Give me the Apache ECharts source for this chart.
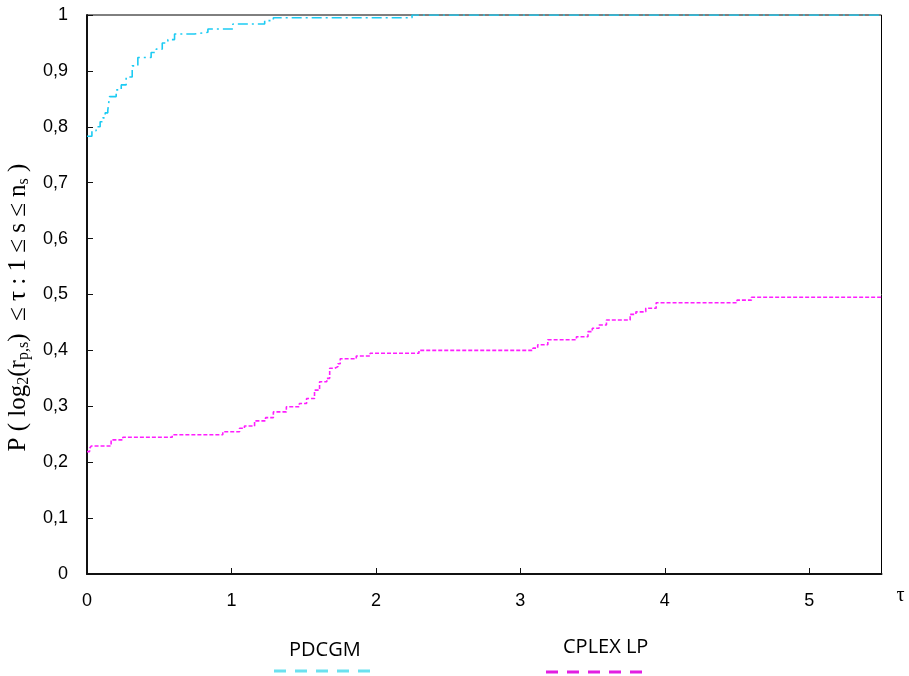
<!DOCTYPE html>
<html>
<head>
<meta charset="utf-8">
<script src="https://cdn.jsdelivr.net/npm/echarts@6/dist/echarts.min.js"></script>
<style>
  html, body { margin: 0; padding: 0; background: #fff; }
  #chart { width: 909px; height: 676px; }
</style>
</head>
<body>
<div id="chart"></div>
<script>
// performance profile data
const pdcgmTau = [0, 0.034, 0.063, 0.091, 0.11, 0.126, 0.144, 0.156, 0.202, 0.237, 0.271, 0.313, 0.352,
  0.444, 0.479, 0.521, 0.56, 0.606, 0.744, 0.837, 1.01, 1.23, 1.29, 2.25, 5.5];
const pdcgmP = [0.783, 0.793, 0.8, 0.809, 0.816, 0.825, 0.83, 0.854, 0.866, 0.875, 0.889, 0.909, 0.924,
  0.933, 0.939, 0.95, 0.956, 0.966, 0.969, 0.975, 0.984, 0.99, 0.995, 1, 1];

const cplexTau = [0, 0.018, 0.03, 0.167, 0.248, 0.59, 0.94, 1.056, 1.09, 1.16, 1.236, 1.29, 1.38, 1.47,
  1.52, 1.575, 1.61, 1.66, 1.68, 1.714, 1.737, 1.753, 1.864, 1.96, 2.298, 3.087, 3.12, 3.19, 3.388,
  3.468, 3.498, 3.545, 3.596, 3.76, 3.8, 3.868, 3.94, 4.5, 4.6, 5.5];
const cplexP = [0.219, 0.225, 0.229, 0.24, 0.2445, 0.249, 0.2546, 0.2606, 0.2648, 0.274, 0.2797, 0.29,
  0.2993, 0.305, 0.314, 0.329, 0.344, 0.35, 0.368, 0.371, 0.376, 0.385, 0.39, 0.395, 0.4, 0.404, 0.41,
  0.419, 0.4245, 0.4335, 0.4395, 0.4454, 0.4544, 0.4645, 0.469, 0.4753, 0.4853, 0.49, 0.495, 0.495];

const xTickLabels = ["0", "1", "2", "3", "4", "5"];
const yTickLabels = ["0", "0,1", "0,2", "0,3", "0,4", "0,5", "0,6", "0,7", "0,8", "0,9", "1"];
const seriesNames = ["PDCGM", "CPLEX LP"];

const zip = (xs, ys) => xs.map((x, i) => [x, ys[i]]);

const chart = echarts.init(document.getElementById("chart"));

const option = {
  animation: false,
  backgroundColor: "#fff",
  grid: {
    left: 87,
    right: 27.5,
    top: 15,
    bottom: 102,
    outerBoundsMode: "none",
    show: true,
    borderColor: "#000",
    borderWidth: 1,
  },
  xAxis: {
    type: "value",
    min: 0,
    max: 5.5,
    interval: 1,
    name: "τ",
    nameLocation: "end",
    nameGap: 15,
    nameTextStyle: {
      fontFamily: "Liberation Serif",
      fontSize: 20,
      color: "#000",
      verticalAlign: "top",
      padding: [12, 0, 0, 0],
    },
    axisLine: { show: true, lineStyle: { color: "#111", width: 2 } },
    axisTick: { show: true, inside: true, length: 6, lineStyle: { color: "#111", width: 1 } },
    splitLine: { show: false },
    axisLabel: {
      margin: 18,
      fontFamily: "Liberation Sans",
      fontSize: 18,
      color: "#000",
      showMaxLabel: false,
      formatter: (v) => (Number.isInteger(v) ? xTickLabels[v] : ""),
    },
  },
  yAxis: {
    type: "value",
    min: 0,
    max: 1,
    interval: 0.1,
    name: "{m|P ( log}{s|2}{m|(r}{s|p,s}{m|)  ≤ τ : 1 ≤ s ≤ n}{s|s}{m| )}",
    nameLocation: "middle",
    nameRotate: 90,
    nameGap: 54,
    nameTextStyle: {
      fontFamily: "Liberation Serif",
      fontSize: 25,
      color: "#000",
      padding: [0, 26, 0, 0],
      rich: {
        m: { fontFamily: "Liberation Serif", fontSize: 25, color: "#000", lineHeight: 28 },
        s: {
          fontFamily: "Liberation Serif",
          fontSize: 16,
          color: "#000",
          lineHeight: 16,
          verticalAlign: "bottom",
          padding: [8, 0, 0, 0],
        },
      },
    },
    axisLine: { show: true, lineStyle: { color: "#111", width: 2 } },
    axisTick: { show: true, inside: true, length: 6, lineStyle: { color: "#111", width: 1 } },
    splitLine: { show: false },
    axisLabel: {
      margin: 19,
      fontFamily: "Liberation Sans",
      fontSize: 18,
      color: "#000",
      formatter: (v) => yTickLabels[Math.round(v * 10)],
    },
  },
  series: [
    {
      name: seriesNames[0],
      type: "line",
      step: "end",
      symbol: "none",
      data: zip(pdcgmTau, pdcgmP),
      lineStyle: { color: "#1ccbf3", width: 1.6, type: [10, 4, 2, 4] },
      z: 3,
    },
    {
      name: seriesNames[1],
      type: "line",
      step: "end",
      symbol: "none",
      data: zip(cplexTau, cplexP),
      lineStyle: { color: "#ff1eff", width: 1.6, type: [4, 2] },
      z: 3,
    },
  ],
  graphic: [
    {
      type: "text",
      left: 289,
      top: 640,
      style: { text: seriesNames[0], fontFamily: "Open Sans", fontSize: 20, fill: "#000" },
    },
    {
      type: "line",
      shape: { x1: 274, y1: 671, x2: 370, y2: 671 },
      style: { stroke: "#6be1ef", lineWidth: 3, lineDash: [12, 9] },
    },
    {
      type: "text",
      left: 563,
      top: 637,
      style: { text: seriesNames[1], fontFamily: "Open Sans", fontSize: 20, fill: "#000" },
    },
    {
      type: "line",
      shape: { x1: 546, y1: 672, x2: 643, y2: 672 },
      style: { stroke: "#e21ee2", lineWidth: 3, lineDash: [12, 9] },
    },
  ],
};

chart.setOption(option);
</script>
</body>
</html>
